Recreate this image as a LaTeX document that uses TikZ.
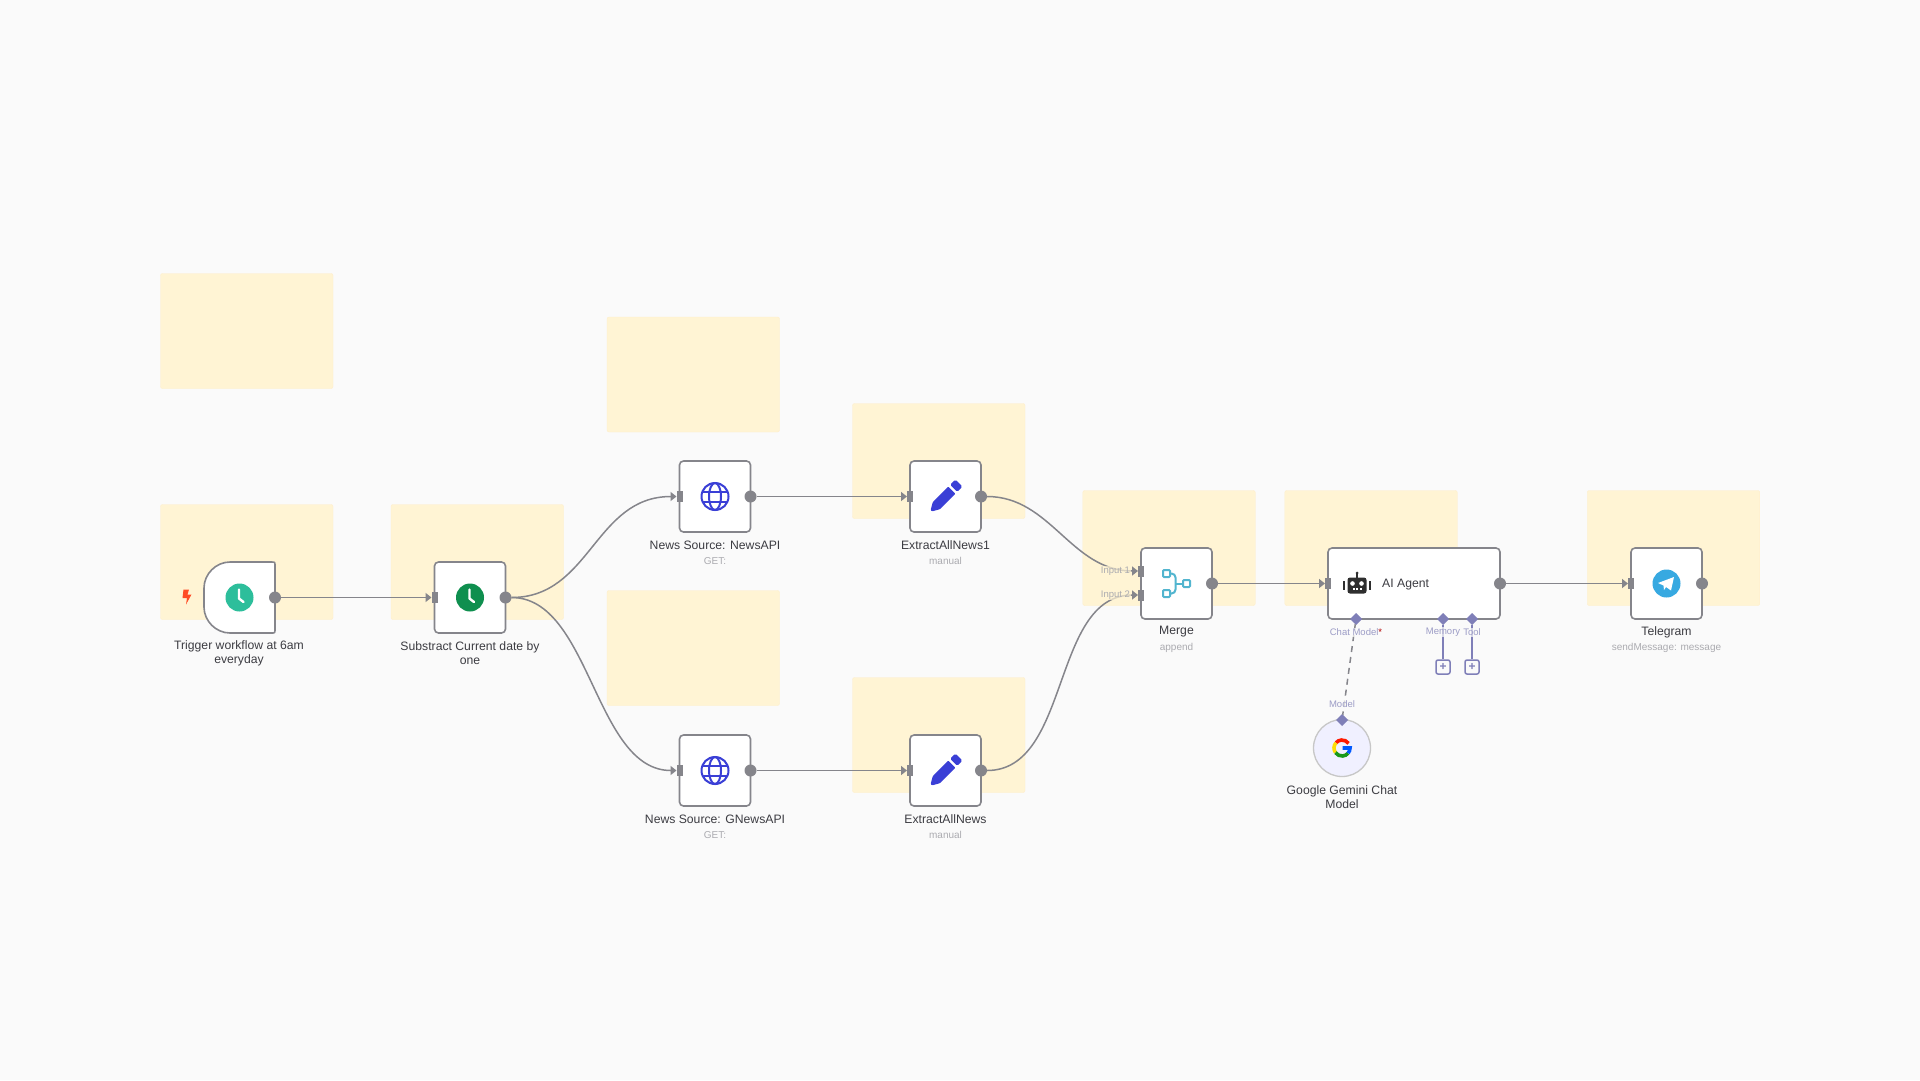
\documentclass[tikz,border=0pt]{standalone}
\usepackage{fontspec}
\setmainfont{Liberation Sans}
\usetikzlibrary{arrows.meta,shapes.geometric}

\definecolor{canvascol}{HTML}{FAFAFA}
\definecolor{stickycol}{HTML}{FFF4D4}
\definecolor{edgecol}{HTML}{85858B}
\definecolor{titlecol}{HTML}{3C3C42}
\definecolor{subcol}{HTML}{ABABB0}
\definecolor{slotcol}{HTML}{7F7FB8}
\definecolor{slottext}{HTML}{9C9CC6}
\definecolor{globecol}{HTML}{3A3FD6}
\definecolor{mergecol}{HTML}{52B5CF}
\definecolor{triggercol}{HTML}{2DBE9B}
\definecolor{datecol}{HTML}{0F8F4F}
\definecolor{planecol}{HTML}{37A9E1}

\tikzset{
	sticky/.style={fill=stickycol, draw=stickycol!95!orange, line width=0.4pt, rounded corners=2pt,
		minimum width=172.5pt, minimum height=115pt, inner sep=0pt, outer sep=0pt},
	nodebox/.style={fill=white, draw=edgecol, line width=1.6pt, rounded corners=4pt,
		minimum width=71pt, minimum height=71pt, inner sep=0pt, outer sep=0pt},
	outport/.style={circle, fill=edgecol, minimum size=12pt, inner sep=0pt, outer sep=0pt},
	inport/.style={fill=edgecol, minimum width=6pt, minimum height=11pt, inner sep=0pt, outer sep=0pt},
	slot/.style={diamond, fill=slotcol, minimum size=12pt, inner sep=0pt, outer sep=0pt},
	addbox/.style={draw=slotcol, fill=canvascol, line width=1.5pt, rounded corners=2pt, minimum size=14pt,
		inner sep=0pt, text=slotcol, font=\fontsize{12}{12}\selectfont\bfseries},
	conn/.style={draw=edgecol, line width=1.5pt, -{Triangle[length=6pt,width=9pt]}},
	slotline/.style={draw=slotcol, line width=1.5pt},
	title/.style={font=\fontsize{12.2}{14}\selectfont, text=titlecol, align=center, inner sep=0pt},
	subtitle/.style={font=\fontsize{10}{12}\selectfont, text=subcol, align=center, inner sep=0pt},
	portlabel/.style={font=\fontsize{9.5}{11}\selectfont, text=subcol, inner sep=1pt},
	slotlabel/.style={font=\fontsize{9.5}{11}\selectfont, text=slottext, inner sep=1pt},
	pics/clockicon/.style={code={
		\fill[#1] (0,0) circle (14pt);
		\draw[white, line width=2.4pt, line cap=round, line join=round, x=1pt, y=1pt] (-0.5,8) -- (-0.5,-1) -- (4,-4.5);
	}},
	pics/globeicon/.style={code={
		\begin{scope}[x=1pt, y=1pt, draw=globecol, line width=2pt]
			\draw (0,0) circle (13.5pt);
			\draw (0,0) ellipse (6pt and 13.5pt);
			\draw (-12,5) -- (12,5);
			\draw (-12,-5) -- (12,-5);
		\end{scope}
	}},
	pics/pencilicon/.style={code={
		\begin{scope}[x=1pt, y=1pt, rotate=45, fill=globecol]
			\fill[rounded corners=0.8pt] (-20,-1) -- (-20,1) -- (-13,5) -- (9,5) -- (9,-5) -- (-13,-5) -- cycle;
			\fill[rounded corners=1.5pt] (11.5,-5) rectangle (19,5);
		\end{scope}
	}},
	pics/mergeicon/.style={code={
		\begin{scope}[x=1pt, y=1pt, draw=mergecol, line width=2pt]
			\draw[rounded corners=1pt] (-13.5,6.5) rectangle (-6.5,13.5);
			\draw[rounded corners=1pt] (-13.5,-13.5) rectangle (-6.5,-6.5);
			\draw[rounded corners=1pt] (6.5,-3.5) rectangle (13.5,3.5);
			\draw[rounded corners=4pt] (-6.5,10) -- (-1,10) -- (-1,-10) -- (-6.5,-10);
			\draw (-1,0) -- (6.5,0);
		\end{scope}
	}},
	pics/roboticon/.style={code={
		\begin{scope}[x=1pt, y=1pt, fill=black!82]
			\fill[rounded corners=2.5pt] (-9.5,-8.5) rectangle (9.5,7.5);
			\fill (-1,7) rectangle (1,12);
			\fill (0,12) circle (1.5pt);
			\fill (-14,-5) rectangle (-12,4);
			\fill (12,-5) rectangle (14,4);
			\fill[white] (-4.5,1.5) circle (2.3pt);
			\fill[white] (4.5,1.5) circle (2.3pt);
			\fill[white] (-4.5,-4.5) rectangle (-2.5,-3);
			\fill[white] (-1,-4.5) rectangle (1,-3);
			\fill[white] (2.5,-4.5) rectangle (4.5,-3);
		\end{scope}
	}},
	pics/planeicon/.style={code={
		\fill[planecol] (0,0) circle (14pt);
		\begin{scope}[x=1pt, y=1pt, fill=white]
			\fill (-8.5,0.5) -- (7.5,6.5) -- (4.5,-7) -- (-0.5,-3.5) -- (-2.5,-6.5) -- (-3,-2) -- cycle;
		\end{scope}
	}},
	pics/googleicon/.style={code={
		\begin{scope}[x=1pt, y=1pt, line width=3.6pt]
			\draw[red!80!orange] (35:8) arc[start angle=35, end angle=140, radius=8pt];
			\draw[yellow!80!orange] (140:8) arc[start angle=140, end angle=215, radius=8pt];
			\draw[green!55!black!90] (215:8) arc[start angle=215, end angle=320, radius=8pt];
			\draw[blue!65!cyan] (320:8) arc[start angle=320, end angle=360, radius=8pt] -- (0.5,0);
		\end{scope}
	}},
	pics/bolticon/.style={code={
		\fill[red!65!orange!85, x=1pt, y=1pt] (-3.5,7.5) -- (2,7.5) -- (0.5,2.5) -- (4.5,2.5) -- (-1,-7.5) -- (0,-1) -- (-4.5,-1) -- cycle;
	}},
}

\begin{document}
\begin{tikzpicture}[x=1pt, y=-1pt]
	\useasboundingbox (0,0) rectangle (1920,1080);
	\fill[canvascol] (0,0) rectangle (1920,1080);

	% sticky notes
	\node[sticky] (note1) at (246.75,331) {};
	\node[sticky] (note2) at (246.75,562) {};
	\node[sticky] (note3) at (477.25,562) {};
	\node[sticky] (note4) at (693.25,374.5) {};
	\node[sticky] (note5) at (693.25,648) {};
	\node[sticky] (note6) at (938.75,461) {};
	\node[sticky] (note7) at (938.75,735) {};
	\node[sticky] (note8) at (1169,548) {};
	\node[sticky] (note9) at (1371,548) {};
	\node[sticky] (note10) at (1673.5,548) {};

	% workflow nodes
	\node[minimum width=71pt, minimum height=71pt, inner sep=0pt, outer sep=0pt] (trigger) at (239.5,597.5) {};
	\draw[fill=white, draw=edgecol, line width=1.6pt] ([yshift=-4pt]trigger.north east) .. controls (trigger.north east) .. ([xshift=-4pt]trigger.north east)
		-- ([xshift=26pt]trigger.north west) .. controls ([xshift=12pt]trigger.north west) and ([yshift=-12pt]trigger.north west) .. ([yshift=-26pt]trigger.north west)
		-- ([yshift=26pt]trigger.south west) .. controls ([yshift=12pt]trigger.south west) and ([xshift=12pt]trigger.south west) .. ([xshift=26pt]trigger.south west)
		-- ([xshift=-4pt]trigger.south east) .. controls (trigger.south east) .. ([yshift=4pt]trigger.south east) -- cycle;
	\node[nodebox] (subdate) at (470,597.5) {};
	\node[nodebox] (newsapi) at (715,496.5) {};
	\node[nodebox] (gnews) at (715,770.5) {};
	\node[nodebox] (extract1) at (945.5,496.5) {};
	\node[nodebox] (extract2) at (945.5,770.5) {};
	\node[nodebox] (merge) at (1176.5,583.5) {};
	\node[nodebox, minimum width=172pt] (agent) at (1414,583.5) {};
	\node[nodebox] (telegram) at (1666.5,583.5) {};
	\node[circle, fill=black!3!blue!6, draw=black!22, line width=1.3pt, minimum size=57pt, inner sep=0pt, outer sep=0pt] (gemini) at (1342,748) {};

	% icons
	\pic at (187,597) {bolticon};
	\pic at (trigger.center) {clockicon={triggercol}};
	\pic at (subdate.center) {clockicon={datecol}};
	\pic at (newsapi.center) {globeicon};
	\pic at (gnews.center) {globeicon};
	\pic at (extract1.center) {pencilicon};
	\pic at (extract2.center) {pencilicon};
	\pic at (merge.center) {mergeicon};
	\pic at (1357,585) {roboticon};
	\pic at (telegram.center) {planeicon};
	\pic at (gemini.center) {googleicon};

	% ports
	\node[outport] (triggerout) at (trigger.east) {};
	\node[outport] (subdateout) at (subdate.east) {};
	\node[outport] (newsapiout) at (newsapi.east) {};
	\node[outport] (gnewsout) at (gnews.east) {};
	\node[outport] (extract1out) at (extract1.east) {};
	\node[outport] (extract2out) at (extract2.east) {};
	\node[outport] (mergeout) at (merge.east) {};
	\node[outport] (agentout) at (agent.east) {};
	\node[outport] (telegramout) at (telegram.east) {};

	\node[inport] (subdatein) at (subdate.west) {};
	\node[inport] (newsapiin) at (newsapi.west) {};
	\node[inport] (gnewsin) at (gnews.west) {};
	\node[inport] (extract1in) at (extract1.west) {};
	\node[inport] (extract2in) at (extract2.west) {};
	\node[inport] (mergein1) at (1141,571) {};
	\node[inport] (mergein2) at (1141,595) {};
	\node[inport] (agentin) at (agent.west) {};
	\node[inport] (telegramin) at (telegram.west) {};

	\node[slot] (chatslot) at (1356,619) {};
	\node[slot] (memoryslot) at (1443,619) {};
	\node[slot] (toolslot) at (1472,619) {};
	\node[slot] (modelslot) at (1342,720) {};
	\node[addbox] (memoryadd) at (1443,667) {+};
	\node[addbox] (tooladd) at (1472,667) {+};

	% connectors
	\draw[conn] (triggerout) -- (subdatein);
	\draw[conn] (subdateout) .. controls +(85,0) and +(-85,0) .. (newsapiin);
	\draw[conn] (subdateout) .. controls +(85,0) and +(-85,0) .. (gnewsin);
	\draw[conn] (newsapiout) -- (extract1in);
	\draw[conn] (gnewsout) -- (extract2in);
	\draw[conn] (extract1out) .. controls +(70,0) and +(-70,0) .. (mergein1);
	\draw[conn] (extract2out) .. controls +(90,0) and +(-90,0) .. (mergein2);
	\draw[conn] (mergeout) -- (agentin);
	\draw[conn] (agentout) -- (telegramin);
	\draw[slotline] (memoryslot) -- (memoryadd);
	\draw[slotline] (toolslot) -- (tooladd);
	\draw[slotline, draw=edgecol, dashed, dash pattern=on 6pt off 5pt] (chatslot) -- (modelslot);

	% labels
	\node[title] (triggerlabel) at (239,653.5) {Trigger workflow at 6am\\everyday};
	\node[title] (subdatelabel) at (470,653.5) {Substract Current date by\\one};
	\node[title] (newsapilabel) at (715,545) {News Source: NewsAPI};
	\node[subtitle] (newsapisub) at (715,561) {GET:};
	\node[title] (gnewslabel) at (715,819) {News Source: GNewsAPI};
	\node[subtitle] (gnewssub) at (715,835) {GET:};
	\node[title] (extract1label) at (945.5,545) {ExtractAllNews1};
	\node[subtitle] (extract1sub) at (945.5,561) {manual};
	\node[title] (extract2label) at (945.5,819) {ExtractAllNews};
	\node[subtitle] (extract2sub) at (945.5,835) {manual};
	\node[title] (mergelabel) at (1176.5,632) {Merge};
	\node[subtitle] (mergesub) at (1176.5,647.5) {append};
	\node[title, anchor=west] (agentlabel) at (1382,584.5) {AI Agent};
	\node[title] (telegramlabel) at (1666.5,632) {Telegram};
	\node[subtitle] (telegramsub) at (1666.5,647.5) {sendMessage: message};
	\node[title] (geminilabel) at (1342,797) {Google Gemini Chat\\Model};

	\node[portlabel, fill=stickycol, fill opacity=0.7, text opacity=1] (input1) at (1115.5,571) {Input 1};
	\node[portlabel, fill=stickycol, fill opacity=0.7, text opacity=1] (input2) at (1115.5,595) {Input 2};
	\node[slotlabel, fill=canvascol, fill opacity=0.7, text opacity=1] (chatlabel) at (1356,632) {Chat Model\textcolor{red!70!black}{*}};
	\node[slotlabel, fill=canvascol, fill opacity=0.7, text opacity=1] (memorylabel) at (1443,632) {Memory};
	\node[slotlabel, fill=canvascol, fill opacity=0.7, text opacity=1] (toollabel) at (1472,632) {Tool};
	\node[slotlabel, fill=canvascol, fill opacity=0.7, text opacity=1] (modellabel) at (1342,704) {Model};
\end{tikzpicture}
\end{document}
